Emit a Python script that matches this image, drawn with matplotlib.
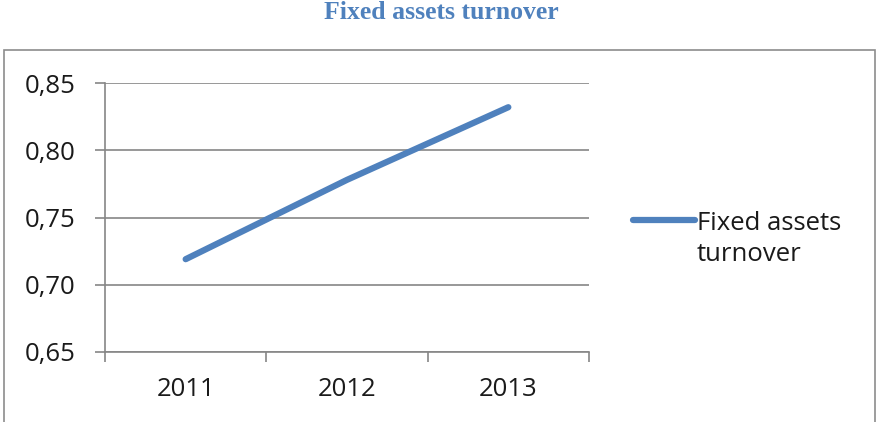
import matplotlib.pyplot as plt
import matplotlib.patches as mpatches
from matplotlib.lines import Line2D
from matplotlib.ticker import FuncFormatter

# data
years = ["2011", "2012", "2013"]
turnover = [0.719, 0.778, 0.832]
y_ticks = [0.65, 0.70, 0.75, 0.80, 0.85]
series_name = "Fixed assets turnover"

W, H = 884, 422
fig = plt.figure(figsize=(W / 100, H / 100), dpi=100)
fig.patch.set_facecolor("white")

blue = "#4F81BD"
grey = "#868686"
txt = "#1a1a1a"
fs = 18.5

# outer chart frame (bottom edge is cut off in the reference)
frame = mpatches.Rectangle((4 / W, -0.1), 871 / W, 1.1 - 50 / H, transform=fig.transFigure,
                           fill=False, edgecolor="#8c8c8c", linewidth=1.2)
fig.patches.append(frame)

fig.text(441 / W, 1 - 1 / H, series_name, ha="center", va="top",
         family="Liberation Serif", fontweight="bold", fontsize=18.5, color=blue)

left, right, top, bottom = 105, 589, 83, 352
ax = fig.add_axes([left / W, 1 - bottom / H, (right - left) / W, (bottom - top) / H])

x = [0.5, 1.5, 2.5]
ax.plot(x, turnover, color=blue, linewidth=4.5, solid_capstyle="round")

ax.set_xlim(0, 3)
ax.set_ylim(0.65, 0.85)
ax.set_yticks(y_ticks)
ax.yaxis.set_major_formatter(FuncFormatter(lambda v, p: f"{v:.2f}".replace(".", ",")))
ax.grid(axis="y", color=grey, linewidth=1.2)
ax.set_axisbelow(True)

ax.set_xticks([0, 1, 2, 3])
ax.set_xticklabels([])
ax.set_xticks(x, minor=True)
ax.set_xticklabels(years, minor=True)
ax.tick_params(axis="x", which="major", length=7, width=1.2, color=grey, direction="out")
ax.tick_params(axis="x", which="minor", length=0, pad=18)
ax.tick_params(axis="y", length=7, width=1.2, color=grey, pad=14)
for lab in ax.get_xticklabels(minor=True) + ax.get_yticklabels():
    lab.set_family("Open Sans")
    lab.set_fontsize(fs)
    lab.set_color(txt)

for s in ["top", "right"]:
    ax.spines[s].set_visible(False)
for s in ["left", "bottom"]:
    ax.spines[s].set_color(grey)
    ax.spines[s].set_linewidth(1.2)

# legend: handle sits on the first line of the wrapped label
ly = 1 - 220 / H
fig.lines.append(Line2D([633 / W, 695 / W], [ly, ly], transform=fig.transFigure,
                        color=blue, linewidth=4.5, solid_capstyle="round"))
fig.text(697 / W, 1 - 239 / H, "Fixed assets\nturnover", ha="left", va="center",
         family="Open Sans", fontsize=fs, color=txt, linespacing=1.35)

fig.savefig("out.png", dpi=100)
